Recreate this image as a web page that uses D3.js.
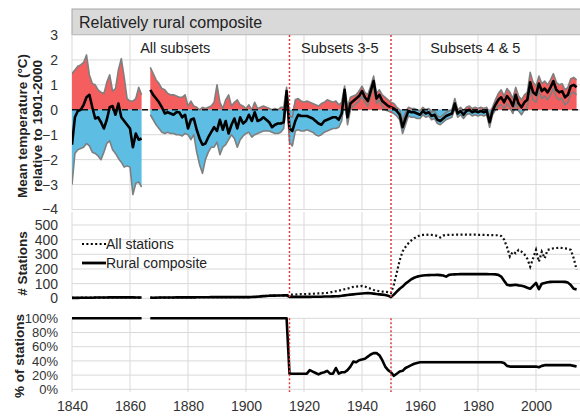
<!DOCTYPE html>
<html>
<head>
<meta charset="utf-8">
<script src="https://cdn.jsdelivr.net/npm/d3@7"></script>
<style>
  body { margin: 0; background: #fff; }
  svg { display: block; font-family: "Liberation Sans", Arial, sans-serif; }
</style>
</head>
<body>
<svg id="chart" width="580" height="416"></svg>
<script>
// ---- data (one value per year from firstYear; null = no data) ----
const firstYear = 1840;

// mean anomaly of the rural composite (°C, relative to 1901-2000)
const tMean = [
  -1.4, -0.3, -0.05, 0.0, 0.2, 0.5, 0.6, 0.1, -0.35, -0.3,
  -0.5, -0.75, -0.4, 0.1, 0.15, -0.2, 0.25, -0.3, -0.45, -0.6,
  -0.75, -1.5, -0.95, -1.2, -1.15, null, null, 0.8, 0.6, 0.45,
  0.3, 0.1, -0.15, -0.1, -0.15, -0.2, -0.1, -0.1, -0.3, -0.2,
  -0.75, -0.4, -0.35, -0.8, -1.15, -1.4, -1.35, -1.1, -0.9, -0.7,
  -0.85, -0.4, -0.8, -0.45, -0.95, -0.6, -0.35, -0.75, -0.3, -0.55,
  -0.45, -0.2, -0.45, -0.1, -0.45, -0.4, -0.3, -0.4, -0.5, -0.7,
  -0.6, -0.55, -0.55, -0.5, 0.75, -0.75, -0.85, -0.45, -0.2, -0.25,
  -0.25, -0.25, -0.3, -0.35, -0.45, -0.55, -0.6, -0.45, -0.4, -0.35,
  -0.3, -0.3, -0.4, -0.15, 0.8, -0.3, 0.25, 0.35, 0.45, 0.55,
  0.75, 0.5, 0.35, 0.75, 1.15, 0.45, 0.6, 0.35, 0.25, 0.15,
  0.1, 0.05, -0.05, -0.2, -0.7, -0.35, -0.05, -0.1, -0.1, -0.15,
  -0.2, -0.05, -0.15, -0.1, -0.25, -0.2, -0.4, -0.45, -0.35, -0.25,
  -0.2, -0.15, 0.25, -0.15, -0.05, -0.2, -0.05, 0.0, -0.1, -0.05,
  -0.1, -0.05, -0.1, -0.05, -0.5, -0.05, 0.2, 0.4, 0.5, 0.3,
  0.55, 0.4, 0.15, 0.6, 0.25, 0.1, 0.3, 0.4, 1.1, 0.7,
  0.6, 1.05, 0.75, 0.85, 0.7, 0.9, 1.15, 0.8, 0.7, 0.75,
  0.5, 0.6, 0.95, 1.0, 0.9
];

// upper bound of the subset range (°C)
const tHigh = [
  1.45, 1.6, 1.75, 1.8, 1.9, 2.2, 1.4, 1.05, 1.0, 0.8,
  0.7, 0.65, 1.1, 1.4, 0.75, 0.85, 1.6, 2.05, 1.3, 0.45,
  0.35, 0.35, 0.45, 0.9, 0.6, null, null, 1.7, 1.45, 1.2,
  1.05, 0.85, 0.8, 0.65, 0.6, 0.6, 0.55, 0.5, 0.5, 0.6,
  0.15, 0.35, 0.15, 0.1, 0.0, 0.1, 0.05, 0.1, 0.15, 0.3,
  1.0, 0.3, 0.05, 0.4, 0.6, 0.15, 0.3, 0.4, 0.2, 0.15,
  0.05, 0.2, 0.0, 0.3, 0.05, 0.1, 0.15, 0.1, 0.05, 0.0,
  0.05, 0.0, 0.1, 0.1, 0.9, -0.25, -0.3, 0.4, 0.45, 0.35,
  0.3, 0.35, 0.3, 0.25, 0.2, 0.15, 0.25, 0.3, 0.4, 0.35,
  0.3, 0.35, 0.2, 0.3, 0.95, 0.1, 0.5, 0.55, 0.6, 0.75,
  0.95, 0.7, 0.6, 0.95, 1.35, 0.65, 0.8, 0.6, 0.5, 0.4,
  0.3, 0.25, 0.1, 0.0, -0.45, -0.1, 0.1, 0.05, 0.05, 0.0,
  -0.05, 0.1, 0.0, 0.05, -0.1, -0.05, -0.25, -0.3, -0.2, -0.1,
  -0.05, 0.0, 0.45, 0.0, 0.1, -0.05, 0.1, 0.15, 0.05, 0.1,
  0.05, 0.1, 0.05, 0.1, -0.3, 0.1, 0.4, 0.65, 0.8, 0.55,
  0.85, 0.7, 0.45, 0.9, 0.55, 0.4, 0.6, 0.7, 1.5, 1.1,
  0.95, 1.35, 1.05, 1.15, 1.0, 1.2, 1.45, 1.1, 1.0, 1.05,
  0.8, 0.9, 1.25, 1.3, 1.2
];

// lower bound of the subset range (°C)
const tLow = [
  -3.0, -1.75, -1.6, -1.55, -1.5, -1.35, -1.45, -1.7, -1.75, -1.85,
  -2.0, -1.7, -1.35, -1.25, -1.6, -1.75, -1.95, -2.1, -2.3, -2.25,
  -2.3, -3.4, -2.95, -2.9, -3.1, null, null, -0.2, -0.4, -0.6,
  -0.75, -0.9, -0.95, -0.9, -0.95, -0.95, -1.0, -1.0, -1.05, -0.95,
  -1.0, -1.2, -1.0, -1.7, -2.2, -2.55, -2.0, -1.7, -1.5, -1.5,
  -1.3, -1.8, -1.5, -1.4, -1.2, -1.0, -1.15, -1.5, -1.2, -1.05,
  -0.95, -0.9, -1.1, -1.0, -0.95, -0.9, -0.85, -0.85, -0.85, -0.9,
  -0.95, -0.95, -0.9, -0.75, 0.55, -1.3, -1.45, -0.85, -0.8, -0.85,
  -0.85, -0.8, -0.85, -0.9, -1.0, -1.05, -1.0, -0.9, -0.85, -0.8,
  -0.75, -0.75, -0.7, -0.45, 0.6, -0.6, 0.0, 0.15, 0.25, 0.35,
  0.55, 0.3, 0.15, 0.55, 0.95, 0.25, 0.4, 0.15, 0.0, -0.05,
  -0.1, -0.15, -0.25, -0.4, -0.95, -0.6, -0.25, -0.3, -0.3, -0.35,
  -0.35, -0.2, -0.3, -0.25, -0.4, -0.35, -0.55, -0.6, -0.5, -0.4,
  -0.35, -0.3, 0.05, -0.3, -0.2, -0.35, -0.2, -0.15, -0.25, -0.2,
  -0.25, -0.2, -0.25, -0.2, -0.7, -0.2, 0.0, 0.15, 0.2, 0.05,
  0.25, 0.1, -0.15, 0.3, -0.05, -0.2, 0.0, 0.1, 0.8, 0.4,
  0.3, 0.75, 0.45, 0.55, 0.4, 0.6, 0.85, 0.5, 0.4, 0.45,
  0.2, 0.3, 0.65, 0.7, 0.6
];

// number of stations
const allStations = [
  3, 3, 3, 4, 4, 4, 4, 4, 5, 5,
  5, 5, 5, 6, 6, 6, 6, 6, 6, 6,
  6, 6, 5, 5, 5, null, null, 4, 4, 4,
  5, 5, 5, 5, 5, 5, 6, 6, 6, 6,
  6, 6, 6, 7, 7, 7, 7, 7, 8, 8,
  8, 8, 8, 8, 8, 8, 8, 8, 8, 8,
  8, 8, 9, 10, 11, 13, 15, 16, 17, 18,
  18, 19, 19, 20, 20, 25, 25, 26, 27, 28,
  28, 29, 30, 31, 32, 33, 34, 35, 37, 40,
  45, 48, 52, 57, 62, 66, 72, 78, 80, 82,
  84, 80, 72, 65, 57, 52, 48, 46, 45, 42,
  35, 95, 175, 260, 320, 350, 375, 395, 410, 420,
  430, 432, 433, 434, 432, 430, 425, 415, 428, 432,
  433, 433, 434, 434, 434, 434, 434, 434, 434, 434,
  433, 433, 432, 432, 431, 431, 430, 430, 425, 400,
  350, 285, 318, 307, 330, 318, 300, 270, 216, 273,
  330, 250, 318, 273, 330, 335, 341, 343, 345, 343,
  341, 338, 330, 273, 195
];
const ruralStations = [
  3, 3, 3, 4, 4, 4, 4, 4, 5, 5,
  5, 5, 5, 6, 6, 6, 6, 6, 6, 6,
  6, 6, 5, 5, 5, null, null, 4, 4, 4,
  5, 5, 5, 5, 5, 5, 6, 6, 6, 6,
  6, 6, 6, 7, 7, 7, 7, 7, 8, 8,
  8, 8, 8, 8, 8, 8, 8, 8, 8, 8,
  8, 8, 9, 10, 11, 13, 15, 16, 17, 18,
  18, 19, 19, 20, 20, 10, 10, 10, 10, 10,
  10, 10, 10, 11, 11, 11, 11, 12, 12, 12,
  13, 14, 15, 17, 20, 23, 25, 27, 29, 31,
  33, 34, 35, 34, 32, 29, 27, 25, 22, 18,
  8, 25, 45, 65, 80, 100, 115, 130, 140, 148,
  152, 155, 157, 158, 159, 159, 160, 158, 155, 148,
  160, 162, 163, 164, 165, 165, 165, 165, 165, 165,
  165, 165, 165, 165, 164, 164, 163, 160, 148, 120,
  92, 88, 90, 92, 88, 86, 80, 72, 65, 85,
  105, 62, 100, 105, 110, 112, 113, 113, 113, 113,
  112, 107, 90, 65, 61
];

// share of all stations that are in the rural composite (%)
const ruralPct = [
  100, 100, 100, 100, 100, 100, 100, 100, 100, 100,
  100, 100, 100, 100, 100, 100, 100, 100, 100, 100,
  100, 100, 100, 100, 100, null, null, 100, 100, 100,
  100, 100, 100, 100, 100, 100, 100, 100, 100, 100,
  100, 100, 100, 100, 100, 100, 100, 100, 100, 100,
  100, 100, 100, 100, 100, 100, 100, 100, 100, 100,
  100, 100, 100, 100, 100, 100, 100, 100, 100, 100,
  100, 100, 100, 100, 100, 22, 22, 22, 22, 22,
  22, 22, 27, 25, 23, 21, 23, 24, 26, 22,
  22, 30, 22, 24, 24, 27, 32, 39, 38, 41,
  42, 43, 46, 49, 51, 51, 48, 41, 32, 27,
  24, 19, 22, 25, 26, 30, 32, 34, 36, 37,
  38, 38, 38, 38, 38, 38, 38, 38, 38, 38,
  38, 38, 38, 38, 38, 38, 38, 38, 38, 38,
  38, 38, 38, 38, 38, 38, 38, 38, 38, 37,
  33, 32, 32, 32, 32, 32, 32, 32, 32, 32,
  32, 31, 33, 34, 34, 34, 34, 34, 34, 34,
  34, 34, 34, 33, 32
];

const gridYears = [1840, 1860, 1880, 1900, 1920, 1940, 1960, 1980, 2000, 2020];
const yearLabels = [1840, 1860, 1880, 1900, 1920, 1940, 1960, 1980, 2000];
const tempTicks = [-4, -3, -2, -1, 0, 1, 2, 3];
const stationTicks = [0, 100, 200, 300, 400, 500];
const pctTicks = [0, 0.2, 0.4, 0.6, 0.8, 1.0];
const subsetBreaks = [1915, 1950];
const subsetLabels = [
  { year: 1863.5, text: "All subsets" },
  { year: 1919, text: "Subsets 3-5" },
  { year: 1963.5, text: "Subsets 4 & 5" }
];

// ---- layout ----
const svg = d3.select("#chart");
const plotLeft = 72, plotRight = 580;
const x = d3.scaleLinear().domain([1840, 2020]).range([plotLeft, 594]);
const yT = d3.scaleLinear().domain([-4, 3]).range([209.5, 35]);
const yM = d3.scaleLinear().domain([0, 500]).range([298.3, 225]);
const yB = d3.scaleLinear().domain([0, 1]).range([389.3, 318.3]);

const rows = tMean.map((m, i) => ({
  year: firstYear + i,
  mean: m, hi: tHigh[i], lo: tLow[i],
  all: allStations[i], rural: ruralStations[i],
  pct: ruralPct[i] == null ? null : ruralPct[i] / 100
}));

const gridColor = "#d9d9d9";
const textColor = "#333";

svg.append("defs").append("clipPath").attr("id", "plotclip")
  .append("rect").attr("x", plotLeft).attr("y", 0)
  .attr("width", plotRight - plotLeft).attr("height", 416);

// header bar
svg.append("rect").attr("x", plotLeft).attr("y", 9).attr("width", 540).attr("height", 25.5)
  .attr("fill", "#d9d9d9").attr("stroke", "#a6a6a6").attr("stroke-width", 1);
svg.append("text").attr("x", 79).attr("y", 27.5).attr("font-size", 16).attr("fill", "#222")
  .text("Relatively rural composite");

// grid for a panel
function grid(yScale, ticks, y0, y1) {
  const g = svg.append("g");
  g.selectAll("line.h").data(ticks).join("line")
    .attr("x1", plotLeft).attr("x2", plotRight)
    .attr("y1", d => yScale(d)).attr("y2", d => yScale(d))
    .attr("stroke", gridColor).attr("stroke-width", 1);
  g.selectAll("line.v").data(gridYears).join("line")
    .attr("x1", d => x(d)).attr("x2", d => x(d))
    .attr("y1", y0).attr("y2", y1)
    .attr("stroke", gridColor).attr("stroke-width", 1);
}
grid(yT, tempTicks, 35, 210);
grid(yM, stationTicks, 212, 298.3);
grid(yB, pctTicks, 318.3, 392);

// y axes
function yAxis(yScale, ticks, fmt, size) {
  const g = svg.append("g").attr("transform", `translate(${plotLeft},0)`)
    .call(d3.axisLeft(yScale).tickValues(ticks).tickSize(0).tickPadding(14).tickFormat(fmt));
  g.select(".domain").remove();
  g.selectAll("text").attr("font-size", size).attr("fill", textColor)
    .attr("font-family", "Liberation Sans, Arial, sans-serif");
}
yAxis(yT, tempTicks, d3.format("d"), 14);
yAxis(yM, stationTicks, d3.format("d"), 14);
yAxis(yB, pctTicks, d3.format(".0%"), 13);

// x axis labels
const xa = svg.append("g").attr("transform", `translate(0,389.3)`)
  .call(d3.axisBottom(x).tickValues(yearLabels).tickSize(0).tickPadding(12).tickFormat(d3.format("d")));
xa.select(".domain").remove();
xa.selectAll("text").attr("font-size", 14).attr("fill", textColor)
  .attr("font-family", "Liberation Sans, Arial, sans-serif");

// axis titles
function vTitle(lines, cx, cy) {
  const t = svg.append("text")
    .attr("transform", `translate(${cx},${cy}) rotate(-90)`)
    .attr("text-anchor", "middle").attr("font-size", 13.5).attr("font-weight", "bold").attr("fill", "#222");
  lines.forEach((s, i) => t.append("tspan").attr("x", 0).attr("dy", i === 0 ? 0 : 15).text(s));
}
vTitle(["Mean temperature (°C)", "relative to 1901-2000"], 26.5, 126);
vTitle(["# Stations"], 27, 263.5);
vTitle(["% of stations"], 23.5, 356);

// ---- top panel: subset range and mean ----
const tempPanel = svg.append("g").attr("clip-path", "url(#plotclip)");
const hasT = d => d.mean != null;

tempPanel.append("path").datum(rows)
  .attr("fill", "#f45e5e")
  .attr("d", d3.area().defined(hasT).x(d => x(d.year))
    .y0(yT(0)).y1(d => yT(Math.max(d.hi, 0))));
tempPanel.append("path").datum(rows)
  .attr("fill", "#5dbde2")
  .attr("d", d3.area().defined(hasT).x(d => x(d.year))
    .y0(yT(0)).y1(d => yT(Math.min(d.lo, 0))));

["hi", "lo"].forEach(k => {
  tempPanel.append("path").datum(rows)
    .attr("fill", "none").attr("stroke", "#7f7f7f").attr("stroke-width", 1.6)
    .attr("stroke-linejoin", "round")
    .attr("d", d3.line().defined(hasT).x(d => x(d.year)).y(d => yT(d[k])));
});

tempPanel.append("line").attr("x1", plotLeft).attr("x2", plotRight)
  .attr("y1", yT(0)).attr("y2", yT(0))
  .attr("stroke", "#111").attr("stroke-width", 1.6).attr("stroke-dasharray", "6,4");

tempPanel.append("path").datum(rows)
  .attr("fill", "none").attr("stroke", "#000").attr("stroke-width", 2.6)
  .attr("stroke-linejoin", "round")
  .attr("d", d3.line().defined(hasT).x(d => x(d.year)).y(d => yT(d.mean)));

// subset labels
svg.selectAll("text.subset").data(subsetLabels).join("text")
  .attr("class", "subset")
  .attr("x", d => x(d.year)).attr("y", 53)
  .attr("font-size", 14.5).attr("fill", "#222")
  .text(d => d.text);

// ---- middle panel: station counts ----
const countPanel = svg.append("g").attr("clip-path", "url(#plotclip)");
countPanel.append("path").datum(rows)
  .attr("fill", "none").attr("stroke", "#111").attr("stroke-width", 2.2)
  .attr("stroke-dasharray", "2,2.4")
  .attr("d", d3.line().defined(d => d.all != null).x(d => x(d.year)).y(d => yM(d.all)));
countPanel.append("path").datum(rows)
  .attr("fill", "none").attr("stroke", "#000").attr("stroke-width", 2.6)
  .attr("stroke-linejoin", "round")
  .attr("d", d3.line().defined(d => d.rural != null).x(d => x(d.year)).y(d => yM(d.rural)));

// legend
const legendItems = [
  { text: "All stations", dash: "2,2.4", y: 244 },
  { text: "Rural composite", dash: null, y: 263 }
];
legendItems.forEach(l => {
  svg.append("line").attr("x1", 82).attr("x2", 106).attr("y1", l.y).attr("y2", l.y)
    .attr("stroke", "#000").attr("stroke-width", l.dash ? 2.2 : 2.8)
    .attr("stroke-dasharray", l.dash);
  svg.append("text").attr("x", 106).attr("y", l.y + 5).attr("font-size", 14).attr("fill", "#222")
    .text(l.text);
});

// ---- bottom panel: rural share ----
const pctPanel = svg.append("g").attr("clip-path", "url(#plotclip)");
pctPanel.append("path").datum(rows)
  .attr("fill", "none").attr("stroke", "#000").attr("stroke-width", 2.6)
  .attr("stroke-linejoin", "round")
  .attr("d", d3.line().defined(d => d.pct != null).x(d => x(d.year)).y(d => yB(d.pct)));

// subset break markers
const breakG = svg.append("g");
[[35, 298.3], [318.3, 392]].forEach(([a, b]) => {
  breakG.append("g").selectAll("line").data(subsetBreaks).join("line")
    .attr("x1", d => x(d)).attr("x2", d => x(d))
    .attr("y1", a).attr("y2", b)
    .attr("stroke", "#e0393b").attr("stroke-width", 1.5).attr("stroke-dasharray", "2,2");
});
</script>
</body>
</html>
